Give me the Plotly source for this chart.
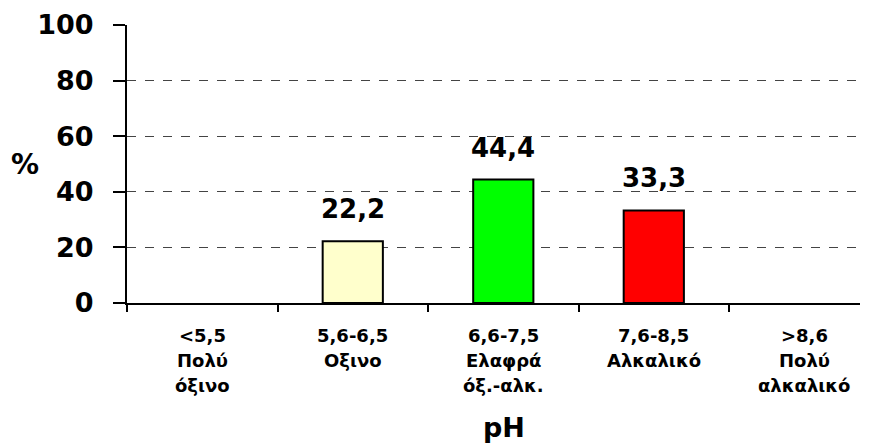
import plotly.graph_objects as go

# data
categories = ["<5,5", "5,6-6,5", "6,6-7,5", "7,6-8,5", ">8,6"]
label_lines = [
    ["<5,5", "Πολύ", "όξινο"],
    ["5,6-6,5", "Οξινο", ""],
    ["6,6-7,5", "Ελαφρά", "όξ.-αλκ."],
    ["7,6-8,5", "Αλκαλικό", ""],
    [">8,6", "Πολύ", "αλκαλικό"],
]
values = [0, 22.2, 44.4, 33.3, 0]
bar_colors = ["#FFFFCC", "#FFFFCC", "#00FF00", "#FF0000", "#FF0000"]
y_ticks = [0, 20, 40, 60, 80, 100]

FONT = "DejaVu Sans, Arial, sans-serif"

fig = go.Figure()
fig.add_trace(go.Bar(
    x=categories, y=values,
    marker=dict(color=bar_colors,
                line=dict(color="black", width=[2 if v > 0 else 0 for v in values])),
    width=0.4,
    hoverinfo="skip",
))

# value labels above the bars
for c, v in zip(categories, values):
    if v > 0:
        fig.add_annotation(
            x=c, y=v, xref="x", yref="y",
            text=f"{v:.1f}".replace(".", ","),
            showarrow=False, yanchor="bottom", yshift=15,
            font=dict(family=FONT, size=26, color="black", weight="bold"),
        )

# category labels, one line per annotation
for c, lines in zip(categories, label_lines):
    for i, line in enumerate(lines):
        if not line:
            continue
        fig.add_annotation(
            x=c, y=0, xref="x", yref="paper",
            text=line, showarrow=False, yanchor="middle",
            yshift=-32 - 25 * i,
            font=dict(family=FONT, size=18, color="black", weight="bold"),
        )

fig.add_annotation(
    x=0, y=0.5, xref="paper", yref="paper", xanchor="center",
    xshift=-102, yshift=0, text="%", showarrow=False,
    font=dict(family=FONT, size=28, color="black", weight="bold"),
)
fig.add_annotation(
    x=0.5, y=0, xref="paper", yref="paper", yanchor="middle",
    xshift=10, yshift=-124, text="pH", showarrow=False,
    font=dict(family=FONT, size=27, color="black", weight="bold"),
)

# page body adds an 8px offset, so the figure is 8px smaller each way
fig.update_layout(
    width=866, height=437,
    margin=dict(l=119, r=14, t=17, b=142, autoexpand=False),
    paper_bgcolor="white", plot_bgcolor="white",
    showlegend=False,
    font=dict(family=FONT, color="black"),
)
fig.update_xaxes(
    type="category", range=[-0.5, 4.37],
    showticklabels=False,
    tickson="boundaries", ticks="outside", ticklen=7, tickwidth=2, tickcolor="black",
    showline=True, linecolor="black", linewidth=2,
    showgrid=False, zeroline=False,
)
fig.update_yaxes(
    range=[0, 100], tickvals=y_ticks,
    ticks="outside", ticklen=12, tickwidth=2, tickcolor="black",
    ticklabelstandoff=14,
    tickfont=dict(family=FONT, size=27, color="black", weight="bold"),
    showline=True, linecolor="black", linewidth=2,
    showgrid=True, gridcolor="#444444", gridwidth=1, griddash="dash",
    zeroline=False,
)

fig.write_html("out.html")
